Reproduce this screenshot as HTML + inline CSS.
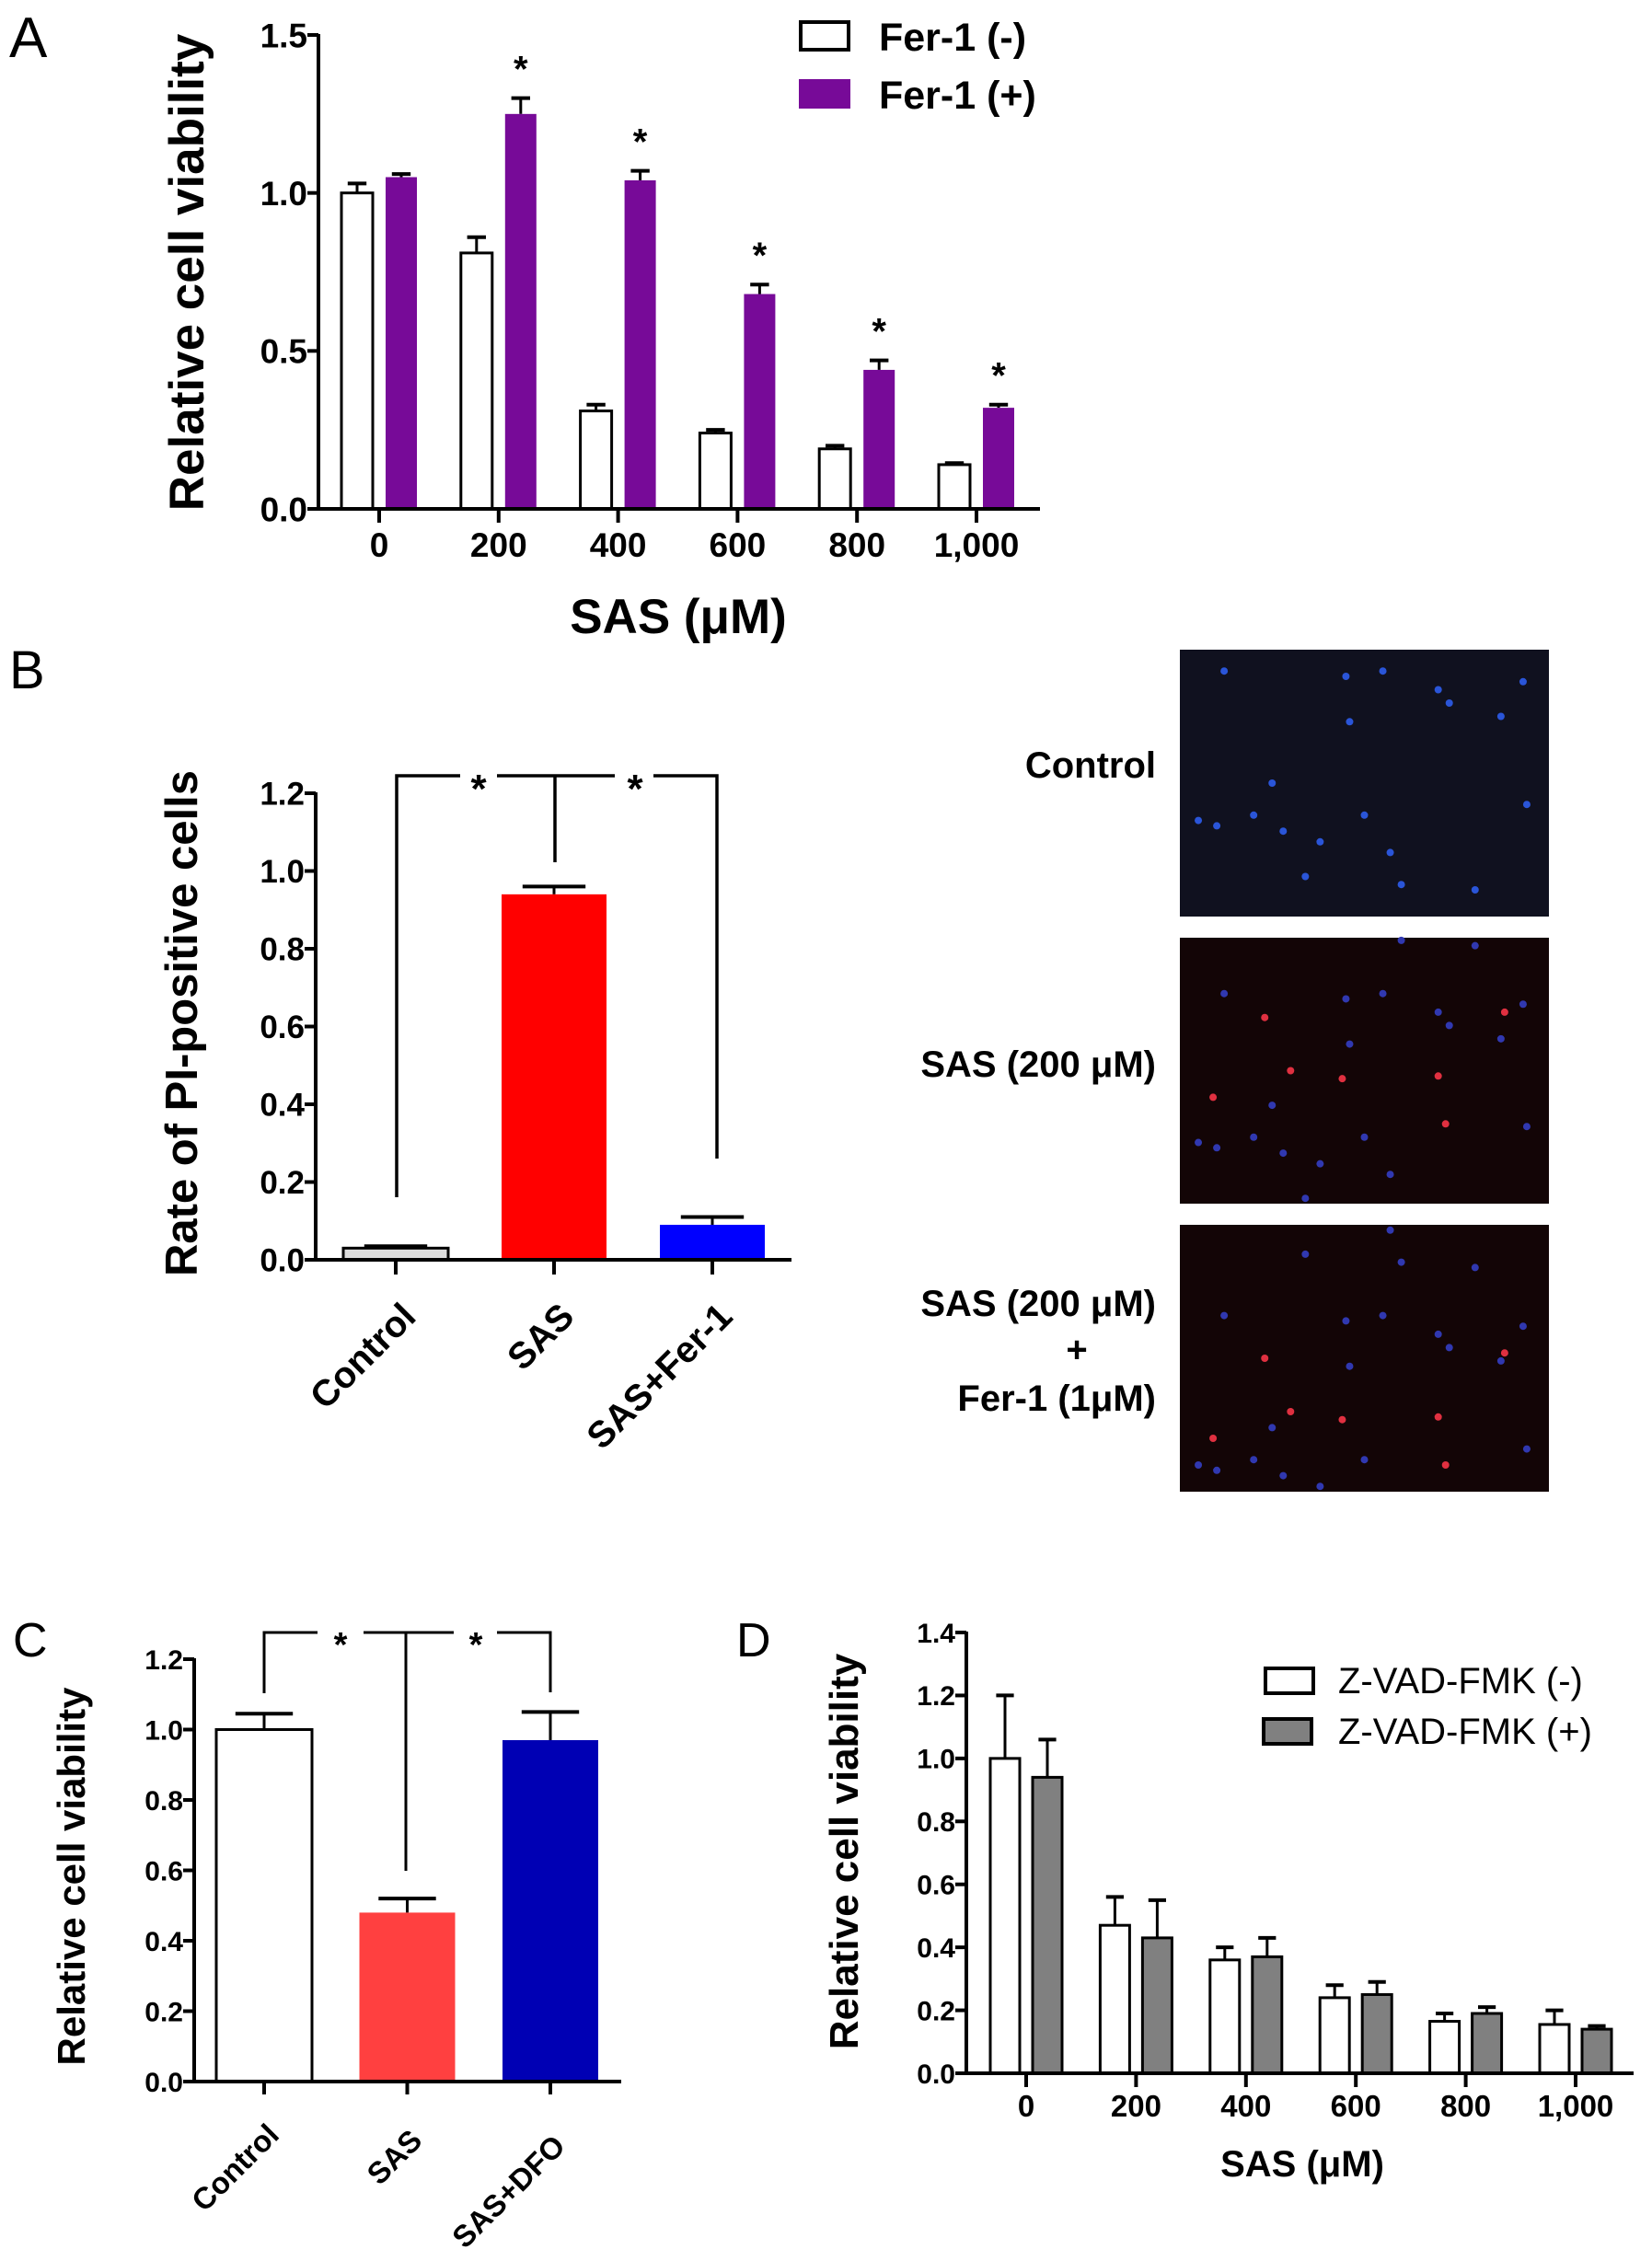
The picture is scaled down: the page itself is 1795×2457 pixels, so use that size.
<!DOCTYPE html>
<html><head><meta charset="utf-8">
<style>
html,body{margin:0;padding:0;background:#fff;}
svg{display:block;font-family:"Liberation Sans",Arial,sans-serif;}
</style></head>
<body>
<svg id="fig" xmlns="http://www.w3.org/2000/svg" width="1795" height="2457" viewBox="0 0 1795 2457">
  <rect width="1795" height="2457" fill="#fff"/>
  <g id="gA"></g>
  <g id="gB"></g>
  <g id="gC"></g>
  <g id="gD"></g>
  <g id="gImg"></g>
</svg>
<script>
// ---------- Panel A data ----------
const aCategories = ["0","200","400","600","800","1,000"];
const aFerMinus = [1.00, 0.81, 0.31, 0.24, 0.19, 0.14];
const aFerMinusErr = [0.03, 0.05, 0.02, 0.01, 0.01, 0.005];
const aFerPlus = [1.05, 1.25, 1.04, 0.68, 0.44, 0.32];
const aFerPlusErr = [0.01, 0.05, 0.03, 0.03, 0.03, 0.01];
const aYTicks = [0, 0.5, 1.0, 1.5];
const aYTickLabels = ["0.0","0.5","1.0","1.5"];
// ---------- Panel B data ----------
const bCategories = ["Control","SAS","SAS+Fer-1"];
const bValues = [0.03, 0.94, 0.09];
const bErr = [0.005, 0.02, 0.02];
const bYTicks = [0,0.2,0.4,0.6,0.8,1.0,1.2];
const bYTickLabels = ["0.0","0.2","0.4","0.6","0.8","1.0","1.2"];
// ---------- Panel C data ----------
const cCategories = ["Control","SAS","SAS+DFO"];
const cValues = [1.00, 0.48, 0.97];
const cErr = [0.045, 0.04, 0.08];
const cYTicks = [0,0.2,0.4,0.6,0.8,1.0,1.2];
const cYTickLabels = ["0.0","0.2","0.4","0.6","0.8","1.0","1.2"];
// ---------- Panel D data ----------
const dCategories = ["0","200","400","600","800","1,000"];
const dZvadMinus = [1.00, 0.47, 0.36, 0.24, 0.165, 0.155];
const dZvadMinusErr = [0.20, 0.09, 0.04, 0.04, 0.025, 0.045];
const dZvadPlus = [0.94, 0.43, 0.37, 0.25, 0.19, 0.14];
const dZvadPlusErr = [0.12, 0.12, 0.06, 0.04, 0.02, 0.01];
const dYTicks = [0,0.2,0.4,0.6,0.8,1.0,1.2,1.4];
const dYTickLabels = ["0.0","0.2","0.4","0.6","0.8","1.0","1.2","1.4"];

const NS="http://www.w3.org/2000/svg";
function mk(parent, tag, attrs, text){
  const e=document.createElementNS(NS,tag);
  for(const k in attrs) e.setAttribute(k,attrs[k]);
  if(text!==undefined) e.textContent=text;
  parent.appendChild(e); return e;
}
function yScale(y0,y1,vmax){ return v => y0 - (y0-y1)*v/vmax; }
function bandScale(first,step){ return i => first + step*i; }

function yAxis(g,x,y,ticks,labels,top,bottom,fs,lw){
  const ax=mk(g,'line',{x1:x,y1:top-1,x2:x,y2:bottom,stroke:'#000','stroke-width':lw});
  
  
  ticks.forEach((t,i)=>{
    const yy=y(t);
    const tk=mk(g,'line',{x1:x-12,y1:yy,x2:x,y2:yy,stroke:'#000','stroke-width':lw});
    
    
    const tl=mk(g,'text',{x:x-12,y:yy+fs*0.36,'font-size':fs,'font-weight':'bold','text-anchor':'end'},labels[i]);
    
    
  });
}
function xAxis(g,x0,x1,yy,lw){
  const ax=mk(g,'line',{x1:x0,y1:yy,x2:x1,y2:yy,stroke:'#000','stroke-width':lw});
  
  
}
function bar(g,cx,w,v,err,y,fill,stroke,name){
  const top=y(v), base=y(0);
  const et=y(v+err);
  const el=mk(g,'line',{x1:cx,y1:top,x2:cx,y2:et,stroke:'#000','stroke-width':3});
  
  
  const cap=mk(g,'line',{x1:cx-w*0.3,y1:et,x2:cx+w*0.3,y2:et,stroke:'#000','stroke-width':4});
  
  
  const r=mk(g,'rect',{x:cx-w/2,y:top,width:w,height:base-top,fill:fill,stroke:stroke,'stroke-width':stroke==='none'?0:3});
  
  
}

// ================= Panel A =================
(function(){
  const g=document.getElementById('gA');
  const y=yScale(553,38,1.5); const xc=bandScale(412,129.8);
  const lA=mk(g,'text',{x:10,y:62,'font-size':62},'A');
   
  aCategories.forEach((c,i)=>{
    bar(g,xc(i)-24,34,aFerMinus[i],aFerMinusErr[i],y,'#fff','#000','bar-fer-minus-'+c);
    bar(g,xc(i)+24,34,aFerPlus[i],aFerPlusErr[i],y,'#770a98','none','bar-fer-plus-'+c);
    const st=mk(g,'text',{x:xc(i)+24,y:y(aFerPlus[i]+aFerPlusErr[i])-18,'font-size':40,'font-weight':'bold','text-anchor':'middle'},i===0?'':'*');
     
    const tk=mk(g,'line',{x1:xc(i),y1:553,x2:xc(i),y2:568,stroke:'#000','stroke-width':4});
     
    const tl=mk(g,'text',{x:xc(i),y:605,'font-size':37,'font-weight':'bold','text-anchor':'middle'},c);
     
  });
  xAxis(g,346,1130,553,4);
  yAxis(g,346,y,aYTicks,aYTickLabels,38,553,37,4);
  const yt=mk(g,'text',{x:0,y:0,'font-size':53,'font-weight':'bold','text-anchor':'middle',transform:'translate(221,296) rotate(-90)'},'Relative cell viability');
   
  const xt=mk(g,'text',{x:737,y:688,'font-size':53,'font-weight':'bold','text-anchor':'middle'},'SAS (μM)');
   
  const l1=mk(g,'rect',{x:870,y:24,width:52,height:30,fill:'#fff',stroke:'#000','stroke-width':4});
   
  const t1=mk(g,'text',{x:955,y:55,'font-size':43,'font-weight':'bold'},'Fer-1 (-)');
   
  const l2=mk(g,'rect',{x:868,y:86,width:56,height:32,fill:'#770a98'});
   
  const t2=mk(g,'text',{x:955,y:118,'font-size':43,'font-weight':'bold'},'Fer-1 (+)');
   
})();

// ================= Panel B =================
(function(){
  const g=document.getElementById('gB');
  const y=yScale(1369,862,1.2); const xc=bandScale(430,172);
  const lb=mk(g,'text',{x:10,y:748,'font-size':58},'B');
   
  const fills=['#dcdcdc','#ff0000','#0000ff'];
  bCategories.forEach((c,i)=>{
    bar(g,xc(i),114,bValues[i],bErr[i],y,fills[i],i===0?'#000':'none','bar-'+c.toLowerCase().replace('+','-'));
    const tk=mk(g,'line',{x1:xc(i),y1:1369,x2:xc(i),y2:1385,stroke:'#000','stroke-width':4});
     
    const ax=xc(i)+24, ay=1433;
    const tl=mk(g,'text',{x:0,y:0,'font-size':40,'font-weight':'bold','text-anchor':'end',transform:'translate('+ax+','+ay+') rotate(-45)'},c);
     
  });
  xAxis(g,343,860,1369,4);
  yAxis(g,343,y,bYTicks,bYTickLabels,862,1369,35,4);
  const yt=mk(g,'text',{x:0,y:0,'font-size':49,'font-weight':'bold','text-anchor':'middle',transform:'translate(214,1112) rotate(-90)'},'Rate of  PI-positive cells');
   
  const br=mk(g,'path',{d:'M431 1301 V843 H500 M540 843 H668 M710 843 H779 V1259 M603 843 V937',fill:'none',stroke:'#000','stroke-width':3.5});
   
  [520,690].forEach(sx=>{
    const s=mk(g,'text',{x:sx,y:872,'font-size':44,'font-weight':'bold','text-anchor':'middle'},'*');
     
  });
  const lbls=[['Control',845],['SAS (200 μM)',1170]];
  lbls.forEach(l=>{
    const t=mk(g,'text',{x:1256,y:l[1],'font-size':40,'font-weight':'bold','text-anchor':'end'},l[0]);
     
  });
  const t3=mk(g,'text',{x:1256,y:1430,'font-size':40,'font-weight':'bold','text-anchor':'end'},'SAS (200 μM)');
   
  const t4=mk(g,'text',{x:1170,y:1480,'font-size':40,'font-weight':'bold','text-anchor':'middle'},'+');
   
  const t5=mk(g,'text',{x:1256,y:1533,'font-size':40,'font-weight':'bold','text-anchor':'end'},'Fer-1 (1μM)');
   
})();

// ================= Fluorescence images =================
(function(){
  const g=document.getElementById('gImg');
  const panels=[[706,996,'#10111f','image-control'],[1019,1308,'#130506','image-sas'],[1331,1621,'#130506','image-sas-fer1']];
  const dotsBlue=[[0.12,0.08],[0.45,0.1],[0.55,0.08],[0.7,0.15],[0.93,0.12],[0.25,0.5],[0.2,0.62],[0.1,0.66],[0.38,0.72],[0.5,0.62],[0.8,0.9],[0.6,0.88],[0.34,0.85],[0.94,0.58],[0.73,0.2],[0.87,0.25],[0.46,0.27],[0.57,0.76],[0.05,0.64],[0.28,0.68]];
  const dotsRed=[[0.23,0.1],[0.3,0.3],[0.44,0.33],[0.7,0.32],[0.72,0.5],[0.09,0.4],[0.88,0.08]];
  panels.forEach((p,k)=>{
    const r=mk(g,'rect',{x:1282,y:p[0],width:401,height:p[1]-p[0],fill:p[2]});
     
    const h=p[1]-p[0];
    dotsBlue.forEach(d=>{
      const c=mk(g,'circle',{cx:1282+d[0]*401,cy:p[0]+((d[1]+k*0.13)%1)*h,r:4,fill:k===0?'#2a55d8':'#3038b0'});
       
    });
    if(k>0) dotsRed.forEach(d=>{
      const c=mk(g,'circle',{cx:1282+d[0]*401,cy:p[0]+((d[1]+k*0.2)%1)*h,r:4,fill:'#e03040'});
       
    });
  });
})();

// ================= Panel C =================
(function(){
  const g=document.getElementById('gC');
  const y=yScale(2262,1803,1.2); const xc=bandScale(287,155.5);
  const lc=mk(g,'text',{x:14,y:1800,'font-size':52},'C');
   
  const fills=['#fff','#ff4040','#0000b4'];
  cCategories.forEach((c,i)=>{
    bar(g,xc(i),104,cValues[i],cErr[i],y,fills[i],i===0?'#000':'none','bar-'+c.toLowerCase().replace('+','-'));
    const tk=mk(g,'line',{x1:xc(i),y1:2262,x2:xc(i),y2:2276,stroke:'#000','stroke-width':4});
     
    const tl=mk(g,'text',{x:0,y:0,'font-size':33,'font-weight':'bold','text-anchor':'end',transform:'translate('+(xc(i)+18)+','+(2322+i*6)+') rotate(-45)'},c);
     
  });
  xAxis(g,211,675,2262,4);
  yAxis(g,211,y,cYTicks,cYTickLabels,1803,2262,30,4);
  const yt=mk(g,'text',{x:0,y:0,'font-size':42,'font-weight':'bold','text-anchor':'middle',transform:'translate(92,2039) rotate(-90)'},'Relative cell viability');
   
  const br=mk(g,'path',{d:'M287 1840 V1774 H345 M395 1774 H493 M540 1774 H598 V1839 M441 1774 V2033',fill:'none',stroke:'#000','stroke-width':3});
   
  [370,517].forEach(sx=>{
    const s=mk(g,'text',{x:sx,y:1800,'font-size':38,'font-weight':'bold','text-anchor':'middle'},'*');
     
  });
})();

// ================= Panel D =================
(function(){
  const g=document.getElementById('gD');
  const y=yScale(2253,1774,1.4); const xc=bandScale(1115,119.4);
  const ld=mk(g,'text',{x:800,y:1800,'font-size':52},'D');
   
  dCategories.forEach((c,i)=>{
    bar(g,xc(i)-23,32,dZvadMinus[i],dZvadMinusErr[i],y,'#fff','#000','bar-zvad-minus-'+c);
    bar(g,xc(i)+23,32,dZvadPlus[i],dZvadPlusErr[i],y,'#808080','#000','bar-zvad-plus-'+c);
    const tk=mk(g,'line',{x1:xc(i),y1:2253,x2:xc(i),y2:2268,stroke:'#000','stroke-width':4});
     
    const tl=mk(g,'text',{x:xc(i),y:2300,'font-size':33,'font-weight':'bold','text-anchor':'middle'},c);
     
  });
  xAxis(g,1050,1775,2253,4);
  yAxis(g,1050,y,dYTicks,dYTickLabels,1774,2253,30,4);
  const yt=mk(g,'text',{x:0,y:0,'font-size':44,'font-weight':'bold','text-anchor':'middle',transform:'translate(932,2012) rotate(-90)'},'Relative cell viability');
   
  const xt=mk(g,'text',{x:1415,y:2365,'font-size':40,'font-weight':'bold','text-anchor':'middle'},'SAS (μM)');
   
  const l1=mk(g,'rect',{x:1375,y:1813,width:52,height:27,fill:'#fff',stroke:'#000','stroke-width':4});
   
  const t1=mk(g,'text',{x:1454,y:1840,'font-size':40},'Z-VAD-FMK (-)');
   
  const l2=mk(g,'rect',{x:1373,y:1868,width:52,height:27,fill:'#808080',stroke:'#000','stroke-width':4});
   
  const t2=mk(g,'text',{x:1454,y:1895,'font-size':40},'Z-VAD-FMK (+)');
   
})();
</script>
</body></html>
